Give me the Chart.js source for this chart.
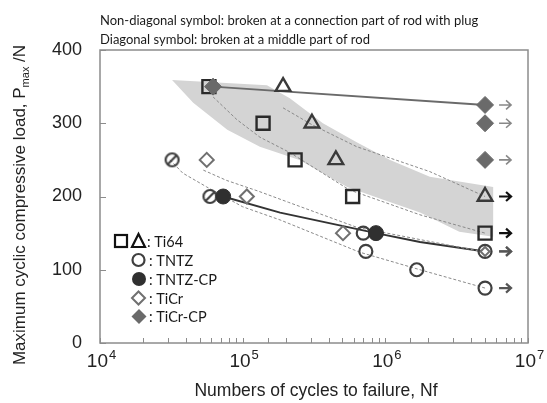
<!DOCTYPE html>
<html>
<head>
<meta charset="utf-8">
<script src="https://cdn.jsdelivr.net/npm/chart.js@4/dist/chart.umd.min.js"></script>
<style>
  body { margin: 0; background: #fff; }
  #wrap { width: 547px; height: 403px; }
</style>
</head>
<body>
<div id="wrap"><canvas id="grafico" width="547" height="403"></canvas></div>
<script>
// valores (N = ciclos, P = carga /N)
const ti64SqN = [5.8e4, 1.39e5, 2.33e5, 5.9e5, 5e6];
const ti64SqP = [350, 300, 250, 200, 150];
const ti64TriN = [1.92e5, 3.06e5, 4.5e5, 5e6];
const ti64TriP = [350, 300, 250, 200];
const tntzN = [7e5, 7.3e5, 1.66e6, 5e6, 5e6];
const tntzP = [150, 125, 100, 125, 75];
const tntzMidN = [3.2e4, 5.9e4];   // simbolo diagonal
const tntzMidP = [250, 200];
const tntzCpN = [7.3e4, 8.6e5];
const tntzCpP = [200, 150];
const ticrN = [5.6e4, 1.07e5, 5.05e5, 5e6];
const ticrP = [250, 200, 150, 125];
const ticrCpN = [6.2e4, 5e6, 5e6, 5e6];
const ticrCpP = [350, 325, 300, 250];

// curvas de tendencia
const sqFitN = [6.2e4, 9.1e4, 1.32e5, 2.14e5, 5.6e5, 1.75e6, 5e6];
const sqFitP = [336, 305, 281, 260, 209, 175, 150];
const triFitN = [1.92e5, 3.06e5, 6.3e5, 2.05e6, 5e6];
const triFitP = [321, 298, 268, 234, 200];
const tntzFitN = [3.1e4, 3.8e4, 5.6e4, 1.0e5, 1.83e5, 6.6e5, 1.75e6, 5e6];
const tntzFitP = [250, 232, 213, 186, 168, 124, 100, 75];
const ticrFitN = [5.3e4, 7.7e4, 1.3e5, 2.1e5, 6.3e5, 5e6];
const ticrFitP = [236, 222, 207, 192, 158, 124];
const tntzCpFitN = [7.3e4, 1.83e5, 8.6e5, 1.75e6, 5e6];
const tntzCpFitP = [200, 178, 150, 138, 125];
const ticrCpFitN = [6.2e4, 5e6];
const ticrCpFitP = [350, 325];

// faixa cinza
const bandN = [3.2e4, 1.48e5, 2.14e5, 3.65e5, 6.3e5, 1.08e6, 2.05e6, 5.7e6,
               5.7e6, 3.3e6, 1.75e6, 9.9e5, 5.4e5, 2.5e5, 1.32e5, 7.8e4, 4.5e4, 3.2e4];
const bandP = [359, 352, 334, 300, 274, 250, 227, 213,
               145, 152, 178, 195, 213, 250, 268, 291, 328, 359];

const xTicks = [1e4, 1e5, 1e6, 1e7];
const yTicks = [0, 100, 200, 300, 400];

const pts = (n, p) => n.map((v, i) => ({x: v, y: p[i]}));
const tituloFont = "Lato, 'Open Sans', sans-serif";
const eixoFont = "'Liberation Sans', Arial, sans-serif";

function circuloCortado(r, cor){
    const s = 2 * r + 6;
    const c = document.createElement("canvas");
    c.width = s; c.height = s;
    const g = c.getContext("2d");
    g.strokeStyle = cor; g.lineWidth = 2.2;
    g.beginPath(); g.arc(s/2, s/2, r, 0, Math.PI * 2); g.stroke();
    g.beginPath();
    g.moveTo(s/2 + r * 0.72, s/2 - r * 0.72);
    g.lineTo(s/2 - r * 0.72, s/2 + r * 0.72);
    g.stroke();
    return c;
}

function linha(n, p, cor, larg, tracejado){
    return {
        data: pts(n, p), showLine: true, pointRadius: 0,
        borderColor: cor, borderWidth: larg, borderDash: tracejado ? [3, 2] : [],
        fill: false, order: 5
    };
}

const datasets = [
    {data: pts(bandN, bandP), showLine: true, pointRadius: 0, borderWidth: 0,
     backgroundColor: "#d4d4d4", fill: "shape", order: 10},
    linha(sqFitN, sqFitP, "#8a8a8a", 1, true),
    linha(triFitN, triFitP, "#8a8a8a", 1, true),
    linha(tntzFitN, tntzFitP, "#8a8a8a", 1, true),
    linha(ticrFitN, ticrFitP, "#8a8a8a", 1, true),
    linha(ticrCpFitN, ticrCpFitP, "#6a6a6a", 2, false),
    linha(tntzCpFitN, tntzCpFitP, "#333333", 2, false),
    {data: pts(ticrN, ticrP), pointStyle: "rectRot", pointRadius: [7, 7, 7, 4.5],
     borderColor: "#707070", backgroundColor: "#ffffff", borderWidth: 2, order: 3, arrowColor: "#777"},
    {data: pts(tntzN, tntzP), pointStyle: "circle", pointRadius: 6.5,
     borderColor: "#404040", backgroundColor: "rgba(255,255,255,0)", borderWidth: 2.2, order: 2, arrowColor: "#555"},
    {data: pts(tntzMidN, tntzMidP), pointStyle: circuloCortado(6.5, "#404040"), order: 2},
    {data: pts(tntzCpN, tntzCpP), pointStyle: "circle", pointRadius: 7.5,
     borderColor: "#303030", backgroundColor: "#303030", borderWidth: 1, order: 1},
    {data: pts(ti64SqN, ti64SqP), pointStyle: "rect", pointRadius: 9.2,
     borderColor: "#2a2a2a", backgroundColor: "rgba(255,255,255,0)", borderWidth: 2.4, order: 2, arrowColor: "#111"},
    {data: pts(ti64TriN, ti64TriP), pointStyle: "triangle", pointRadius: 8.5,
     borderColor: "#3a3a3a", backgroundColor: "rgba(255,255,255,0)", borderWidth: 2.4, order: 2, arrowColor: "#111"},
    {data: pts(ticrCpN, ticrCpP), pointStyle: "rectRot", pointRadius: 8.5,
     borderColor: "#6a6a6a", backgroundColor: "#6a6a6a", borderWidth: 1, order: 0, arrowColor: "#888"}
];

const decoracao = {
    id: "decoracao",
    beforeDatasetsDraw(chart){
        const {ctx, chartArea: a, scales: {x, y}} = chart;
        ctx.save();
        // ticks internos
        ctx.strokeStyle = "#8c8c8c"; ctx.lineWidth = 1;
        x.ticks.forEach(t => {
            const px = Math.round(x.getPixelForValue(t.value)) + 0.5;
            ctx.beginPath(); ctx.moveTo(px, a.bottom); ctx.lineTo(px, a.bottom - 5); ctx.stroke();
        });
        yTicks.forEach(v => {
            const py = Math.round(y.getPixelForValue(v)) + 0.5;
            ctx.beginPath(); ctx.moveTo(a.left, py); ctx.lineTo(a.left + 6, py); ctx.stroke();
        });
        ctx.restore();
    },
    afterDatasetsDraw(chart){
        const {ctx, chartArea: a, scales: {x, y}} = chart;
        ctx.save();
        // setas de runout
        chart.data.datasets.forEach(ds => {
            if(!ds.arrowColor) return;
            ds.data.forEach(p => {
                if(p.x < 5e6) return;
                const px = x.getPixelForValue(p.x), py = y.getPixelForValue(p.y);
                ctx.strokeStyle = ds.arrowColor;
                ctx.lineWidth = ds.arrowColor === "#888" ? 1.6 : 2.2;
                ctx.beginPath();
                ctx.moveTo(px + 14, py); ctx.lineTo(px + 26, py);
                ctx.moveTo(px + 21, py - 4.5); ctx.lineTo(px + 26, py); ctx.lineTo(px + 21, py + 4.5);
                ctx.stroke();
            });
        });

        // moldura
        ctx.strokeStyle = "#8c8c8c"; ctx.lineWidth = 1.5;
        ctx.strokeRect(a.left, a.top, a.right - a.left, a.bottom - a.top);

        // rotulos do eixo x
        ctx.fillStyle = "#222";
        ctx.textBaseline = "alphabetic";
        xTicks.forEach(v => {
            const px = x.getPixelForValue(v);
            const exp = String(Math.round(Math.log10(v)));
            ctx.font = "19px " + eixoFont;
            const w1 = ctx.measureText("10").width;
            ctx.font = "13px " + eixoFont;
            const w2 = ctx.measureText(exp).width;
            const x0 = px - (w1 + w2) / 2 + 1;
            ctx.font = "19px " + eixoFont;
            ctx.textAlign = "left";
            ctx.fillText("10", x0, 367);
            ctx.font = "13px " + eixoFont;
            ctx.fillText(exp, x0 + w1 + 1, 359);
        });

        // titulo eixo x
        ctx.font = "17.5px " + eixoFont;
        ctx.textAlign = "center";
        ctx.fillText("Numbers of cycles to failure, Nf", 316, 396);

        // titulo eixo y com subscrito
        ctx.save();
        ctx.translate(25, 205);
        ctx.rotate(-Math.PI / 2);
        ctx.font = "17px " + eixoFont;
        const t1 = "Maximum cyclic compressive load, P", t3 = " /N";
        const w1 = ctx.measureText(t1).width, w3 = ctx.measureText(t3).width;
        ctx.font = "11px " + eixoFont;
        const w2 = ctx.measureText("max").width;
        let xs = -(w1 + w2 + w3) / 2;
        ctx.textAlign = "left";
        ctx.font = "17px " + eixoFont;
        ctx.fillText(t1, xs, 0);
        ctx.font = "11px " + eixoFont;
        ctx.fillText("max", xs + w1, 4);
        ctx.font = "17px " + eixoFont;
        ctx.fillText(t3, xs + w1 + w2, 0);
        ctx.restore();

        // nota no topo
        ctx.font = "13px " + tituloFont;
        ctx.textAlign = "left";
        ctx.fillStyle = "#1a1a1a";
        ctx.fillText("Non-diagonal symbol: broken at a connection part of rod with plug", 100, 25);
        ctx.fillText("Diagonal symbol: broken at a middle part of rod", 100, 44);

        // legenda
        ctx.lineWidth = 2.2;
        ctx.strokeStyle = "#111";
        ctx.strokeRect(115, 235, 12, 12);
        ctx.beginPath();
        ctx.moveTo(138.5, 234); ctx.lineTo(145, 247); ctx.lineTo(132, 247); ctx.closePath();
        ctx.stroke();
        ctx.strokeStyle = "#404040";
        ctx.beginPath(); ctx.arc(138.5, 260, 6, 0, Math.PI * 2); ctx.stroke();
        ctx.fillStyle = "#303030";
        ctx.beginPath(); ctx.arc(139, 279, 7, 0, Math.PI * 2); ctx.fill();
        ctx.strokeStyle = "#707070"; ctx.lineWidth = 2;
        ctx.beginPath();
        ctx.moveTo(138.5, 291.5); ctx.lineTo(145, 298); ctx.lineTo(138.5, 304.5); ctx.lineTo(132, 298); ctx.closePath();
        ctx.stroke();
        ctx.fillStyle = "#6a6a6a";
        ctx.beginPath();
        ctx.moveTo(139, 309); ctx.lineTo(146.5, 316.5); ctx.lineTo(139, 324); ctx.lineTo(131.5, 316.5); ctx.closePath();
        ctx.fill();

        ctx.fillStyle = "#1a1a1a";
        ctx.font = "14.5px " + tituloFont;
        ctx.textBaseline = "middle";
        ctx.fillText(": Ti64", 147, 242);
        ctx.fillText(": TNTZ", 149, 261);
        ctx.fillText(": TNTZ-CP", 149, 280);
        ctx.fillText(": TiCr", 149, 299);
        ctx.fillText(": TiCr-CP", 149, 317);
        ctx.restore();
    }
};

const grafico = new Chart(document.getElementById("grafico"), {
    type: "scatter",
    data: {datasets: datasets},
    options: {
        responsive: false,
        animation: false,
        layout: {padding: {left: 0, right: 19, top: 50, bottom: 0}},
        plugins: {legend: {display: false}, tooltip: {enabled: false}},
        scales: {
            x: {
                type: "logarithmic", min: 1e4, max: 1e7,
                grid: {display: false, drawTicks: false},
                border: {display: false},
                ticks: {display: false, autoSkip: false},
                afterFit: s => { s.height = 60; }
            },
            y: {
                min: 0, max: 400,
                grid: {display: false, drawTicks: false},
                border: {display: false},
                ticks: {stepSize: 100, color: "#222", padding: 18,
                        font: {family: eixoFont, size: 18}},
                afterFit: s => { s.width = 100; }
            }
        }
    },
    plugins: [decoracao]
});
</script>
</body>
</html>
